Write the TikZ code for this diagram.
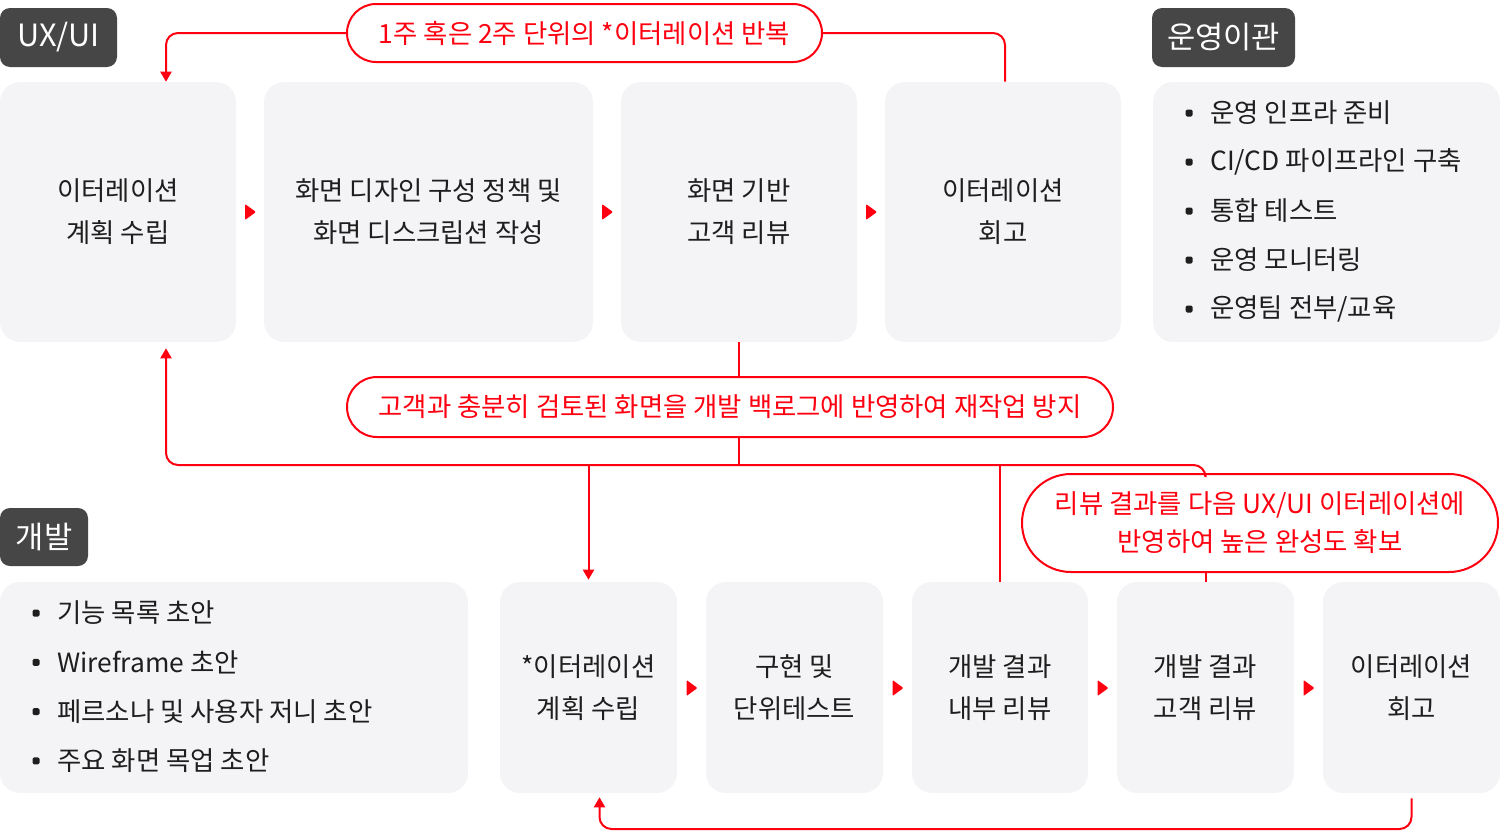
\documentclass[tikz,border=0pt]{standalone}
\usepackage{fontspec}
\setmainfont{Noto Sans CJK KR}
\usetikzlibrary{arrows.meta,calc}
\def\pxu{*0.75pt}
\definecolor{redc}{RGB}{255,0,16}
\definecolor{boxfill}{RGB}{244,244,246}
\definecolor{tagfill}{RGB}{70,70,70}
\definecolor{txt}{RGB}{30,30,30}
\begin{document}
\begin{tikzpicture}[x=0.75pt,y=-0.75pt,
  box/.style={fill=boxfill, rounded corners=20\pxu, inner sep=0pt, text=txt, align=center,
    font=\fontsize{19.8}{31.5}\selectfont},
  tag/.style={fill=tagfill, rounded corners=10\pxu, inner sep=0pt, text=white,
    font=\fontsize{23}{26}\selectfont},
  pill/.style={draw=redc, line width=2\pxu, fill=white, text=redc, inner sep=0pt, align=center,
    font=\fontsize{19.8}{28.5}\selectfont},
  item/.style={anchor=west, inner sep=0pt, text=txt, font=\fontsize{19.8}{23}\selectfont},
  conn/.style={draw=redc, line width=2\pxu, rounded corners=12\pxu},
  arr/.style={-{Triangle[width=11\pxu,length=10\pxu]}}
]
\useasboundingbox (0,0) rectangle (1500,832);

% tags
\node[tag, minimum width=117\pxu, minimum height=59\pxu] (tux) at (58.5,37.5) {UX/UI};
\node[tag, minimum width=143\pxu, minimum height=59\pxu] (tops) at (1223.5,37.5) {운영이관};
\node[tag, minimum width=88\pxu, minimum height=58\pxu] (tdev) at (44,537) {개발};

% top row
\node[box, minimum width=236\pxu, minimum height=260\pxu] (b1) at (118,212) {이터레이션\\계획 수립};
\node[box, minimum width=329\pxu, minimum height=260\pxu] (b2) at (428.5,212) {화면 디자인 구성 정책 및\\화면 디스크립션 작성};
\node[box, minimum width=236\pxu, minimum height=260\pxu] (b3) at (739,212) {화면 기반\\고객 리뷰};
\node[box, minimum width=236\pxu, minimum height=260\pxu] (b4) at (1003,212) {이터레이션\\회고};
\node[box, minimum width=347\pxu, minimum height=260\pxu] (ops) at (1326.5,212) {};

% ops list
\foreach \t [count=\i] in {운영 인프라 준비, CI/CD 파이프라인 구축, 통합 테스트, 운영 모니터링, 운영팀 전부/교육}{
  \node[item] (la\i) at (1210,{113+49*(\i-1)}) {\t};
  \fill[txt, rounded corners=1.5\pxu] (1185.5,{109.5+49*(\i-1)}) rectangle ++(7,7);
}

% bottom row
\node[box, minimum width=468\pxu, minimum height=211\pxu] (dl) at (234,687.5) {};
\node[box, minimum width=177\pxu, minimum height=211\pxu] (D1) at (588.5,687.5) {*이터레이션\\계획 수립};
\node[box, minimum width=177\pxu, minimum height=211\pxu] (D2) at (794.5,687.5) {구현 및\\단위테스트};
\node[box, minimum width=176\pxu, minimum height=211\pxu] (D3) at (1000,687.5) {개발 결과\\내부 리뷰};
\node[box, minimum width=177\pxu, minimum height=211\pxu] (D4) at (1205.5,687.5) {개발 결과\\고객 리뷰};
\node[box, minimum width=177\pxu, minimum height=211\pxu] (D5) at (1411.5,687.5) {이터레이션\\회고};

\foreach \t [count=\i] in {기능 목록 초안, Wireframe 초안, 페르소나 및 사용자 저니 초안, 주요 화면 목업 초안}{
  \node[item] (lb\i) at (57,{613+49.3*(\i-1)}) {\t};
  \fill[txt, rounded corners=1.5\pxu] (32.5,{609.5+49.3*(\i-1)}) rectangle ++(7,7);
}

% small triangles
\foreach \cx/\cy in {250/212, 607/212, 871/212, 691.5/688, 897.5/688, 1102.5/688, 1308.5/688}{
  \fill[redc, rounded corners=1\pxu] ({\cx-5},{\cy-8}) -- ({\cx+6},\cy) -- ({\cx-5},{\cy+8}) -- cycle;
}

% pills
\node[pill, minimum width=475\pxu, minimum height=58\pxu, rounded corners=29\pxu] (p1) at (584.5,33) {1주 혹은 2주 단위의 *이터레이션 반복};
\node[pill, minimum width=766\pxu, minimum height=60\pxu, rounded corners=30\pxu] (p2) at (730,407) {고객과 충분히 검토된 화면을 개발 백로그에 반영하여 재작업 방지};
\node[pill, minimum width=476\pxu, minimum height=98\pxu, rounded corners=49\pxu] (p3) at (1260,523) {리뷰 결과를 다음 UX/UI 이터레이션에\\반영하여 높은 완성도 확보};

% helper coordinates
\coordinate (hl) at (0,465);
\coordinate (lb) at (0,829);
\coordinate (B1t) at ([xshift=48\pxu]b1.north);
\coordinate (B1b) at ([xshift=48\pxu,yshift=-6\pxu]b1.south);
\coordinate (D1t) at ([yshift=2\pxu]D1.north);
\coordinate (D1b) at ([xshift=11\pxu,yshift=-4\pxu]D1.south);
\coordinate (D5b) at ([yshift=-5\pxu]D5.south);

% connectors
\draw[conn] ([xshift=2\pxu]b4.north) |- (p1.east);
\draw[conn, arr] (p1.west) -| (B1t);
\draw[conn] (b3.south) -- (b3.south |- p2.north);
\draw[conn] (p2.south -| b3.south) -- (b3.south |- hl);
\draw[conn, arr] (D4.north |- p3.north) |- (hl -| B1b) -- (B1b);
\draw[conn, arr] (D1.north |- hl) -- (D1t);
\draw[conn] (D3.north) -- (D3.north |- hl);
\draw[conn] (D4.north) -- (D4.north |- p3.south);
\draw[conn, arr] (D5b) |- (lb -| D1b) -- (D1b);
\end{tikzpicture}
\end{document}
